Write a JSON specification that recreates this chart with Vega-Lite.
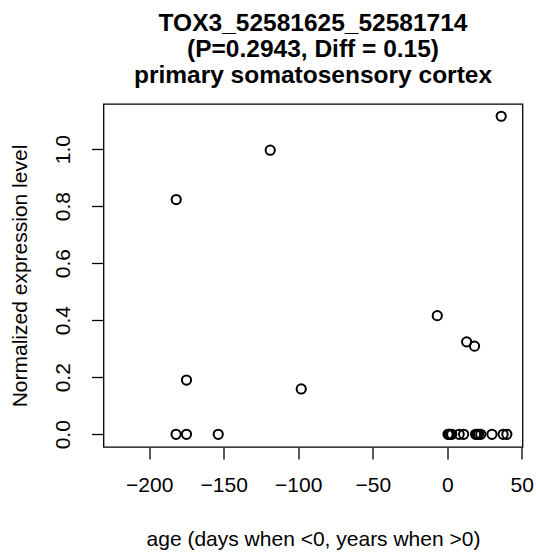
{
  "$schema": "https://vega.github.io/schema/vega-lite/v6.json",
  "width": 419,
  "height": 343,
  "autosize": "none",
  "padding": {"left": 103.5, "top": 104, "right": 13.5, "bottom": 106},
  "background": "white",
  "title": {
    "text": ["TOX3_52581625_52581714", "(P=0.2943, Diff = 0.15)", "primary somatosensory cortex"],
    "font": "Liberation Sans",
    "fontSize": 24.5,
    "fontWeight": "bold",
    "color": "black",
    "anchor": "middle",
    "baseline": "bottom",
    "lineHeight": 26,
    "offset": -8
  },
  "config": {
    "view": {"stroke": "black", "strokeWidth": 1.3},
    "axis": {
      "labelFont": "Liberation Sans",
      "titleFont": "Liberation Sans",
      "labelFontSize": 21,
      "titleFontSize": 21,
      "titleFontWeight": "normal",
      "labelColor": "black",
      "titleColor": "black",
      "tickColor": "black",
      "tickSize": 12,
      "tickWidth": 1.3,
      "domain": false,
      "grid": false
    }
  },
  "data": {
    "values": [
      {"age": -181.9, "expr": 0.823},
      {"age": -118.8, "expr": 0.996},
      {"age": -175.0, "expr": 0.19},
      {"age": -98.0, "expr": 0.159},
      {"age": -6.7, "expr": 0.416},
      {"age": 13.0, "expr": 0.324},
      {"age": 18.3, "expr": 0.309},
      {"age": 36.2, "expr": 1.115},
      {"age": -182.0, "expr": 0},
      {"age": -175.0, "expr": 0},
      {"age": -153.7, "expr": 0},
      {"age": 0.5, "expr": 0},
      {"age": 1.0, "expr": 0},
      {"age": 1.5, "expr": 0},
      {"age": 2.0, "expr": 0},
      {"age": 3.0, "expr": 0},
      {"age": 8.0, "expr": 0},
      {"age": 11.0, "expr": 0},
      {"age": 19.0, "expr": 0},
      {"age": 20.0, "expr": 0},
      {"age": 21.0, "expr": 0},
      {"age": 22.5, "expr": 0},
      {"age": 30.0, "expr": 0},
      {"age": 37.5, "expr": 0},
      {"age": 40.0, "expr": 0}
    ]
  },
  "mark": {"type": "point", "shape": "circle", "filled": false, "stroke": "black", "strokeWidth": 2, "size": 85, "opacity": 1},
  "encoding": {
    "x": {
      "field": "age",
      "type": "quantitative",
      "scale": {"domain": [-230.7, 50.5], "nice": false, "zero": false},
      "axis": {
        "title": "age (days when <0, years when >0)",
        "values": [-200, -150, -100, -50, 0, 50],
        "labelPadding": 15,
        "labelBaseline": "top",
        "labelFlush": false,
        "labelOverlap": false,
        "titlePadding": 33
      }
    },
    "y": {
      "field": "expr",
      "type": "quantitative",
      "scale": {"domain": [-0.0446, 1.158], "nice": false, "zero": false},
      "axis": {
        "title": "Normalized expression level",
        "values": [0, 0.2, 0.4, 0.6, 0.8, 1.0],
        "format": ".1f",
        "labelAngle": -90,
        "labelAlign": "center",
        "labelBaseline": "bottom",
        "labelPadding": 18,
        "labelFlush": false,
        "labelOverlap": false,
        "titlePadding": 22
      }
    }
  }
}
